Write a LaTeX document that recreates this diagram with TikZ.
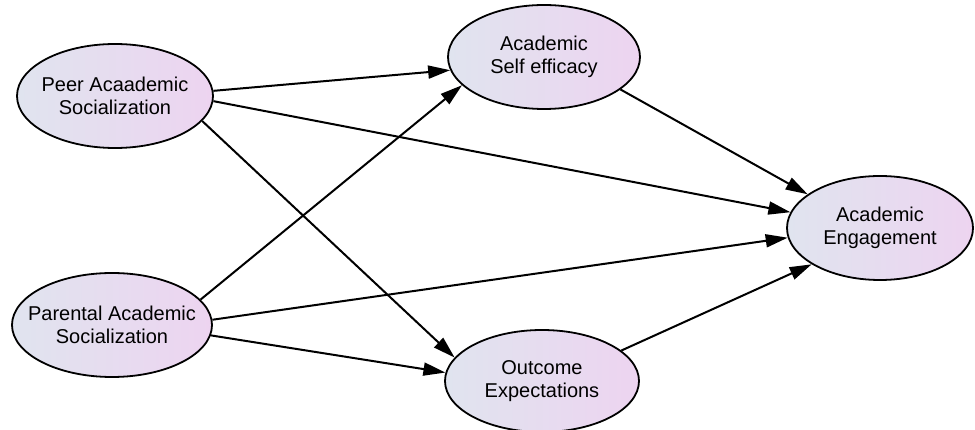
\documentclass[tikz,border=0pt]{standalone}
\usepackage{fontspec}
\setmainfont{Liberation Sans}
\usetikzlibrary{shapes.geometric,arrows.meta}
\definecolor{lft}{HTML}{E0E4EF}
\definecolor{rgt}{HTML}{EDD4F0}
\tikzset{
  lv/.style={ellipse, draw=black, line width=1.8pt, left color=lft, right color=rgt,
    inner sep=0pt},
  lvtext/.style={align=center, inner sep=0pt, font=\fontsize{20}{22.5}\selectfont},
  arr/.style={line width=2pt, -{Triangle[length=22pt,width=13pt]}}
}
\begin{document}
\begin{tikzpicture}[x=1pt,y=-1pt]
\useasboundingbox (0,0) rectangle (975,430);
\node[lv, minimum width=196pt, minimum height=104pt] (peer) at (115,96) {};
\node[lvtext] (peert) at (peer) {Peer Acaademic\\Socialization};
\node[lv, minimum width=200pt, minimum height=104pt] (par) at (112,325) {};
\node[lvtext] (part) at (par) {Parental Academic\\Socialization};
\node[lv, minimum width=192pt, minimum height=104pt] (ase) at (544,57) {};
\node[lvtext] (aset) at (ase) {Academic\\Self efficacy};
\node[lv, minimum width=194pt, minimum height=102pt] (oe) at (542,381) {};
\node[lvtext] (oet) at (oe) {Outcome\\Expectations};
\node[lv, minimum width=186pt, minimum height=104pt] (ae) at (880,228) {};
\node[lvtext] (aet) at (ae) {Academic\\Engagement};
\draw[arr] (peer.3) -- (ase.188);
\draw[arr] (peer.-3) -- (ae.170);
\draw[arr] (peer.-16) -- (oe.165);
\draw[arr] (par.16) -- (ase.199);
\draw[arr] (par.3) -- (ae.186);
\draw[arr] (par.-6) -- (oe.175);
\draw[arr] (ase.-23) -- (ae.155);
\draw[arr] (oe.21) -- (ae.208);
\end{tikzpicture}
\end{document}
